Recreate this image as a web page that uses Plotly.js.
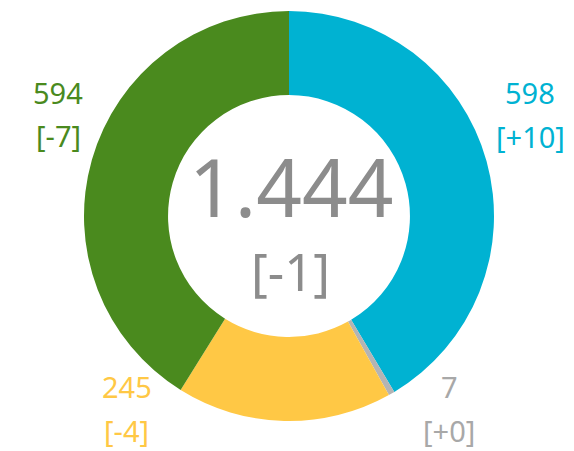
<!DOCTYPE html>
<html>
<head>
<meta charset="utf-8">
<script src="https://cdn.plot.ly/plotly-3.0.1.min.js"></script>
<style>html,body{margin:0;padding:0;background:#fff;}#chart{width:574px;height:451px;}</style>
</head>
<body>
<div id="chart"></div>
<script>
// Data
var categories = ["A", "B", "C", "D"];
var values = [598, 7, 245, 594];
var deltas = [10, 0, -4, -7];
var colors = ["#00B2D2", "#B4B4B4", "#FFC845", "#4A8A1E"];
var labelColors = ["#00B2D2", "#A8A8A8", "#FFC845", "#4A8A1E"];
// label positions (paper px) for each category
var labelPos = [[530, 93], [449, 386], [127, 386], [58, 92]];

var W = 574, H = 451;
function fmtDelta(d) { return "[" + (d >= 0 ? "+" : "") + d + "]"; }
function fmtThousands(n) { return String(n).replace(/\B(?=(\d{3})+(?!\d))/g, "."); }

var total = values.reduce(function (a, b) { return a + b; }, 0);
var totalDelta = deltas.reduce(function (a, b) { return a + b; }, 0);

var cx = 289, cy = 216, R = 205;
var trace = {
  type: "pie",
  labels: categories,
  values: values,
  sort: false,
  direction: "clockwise",
  rotation: 0,
  hole: 0.59,
  textinfo: "none",
  hoverinfo: "none",
  marker: { colors: colors, line: { color: "#ffffff", width: 0 } },
  domain: { x: [(cx - R) / W, (cx + R) / W], y: [1 - (cy + R) / H, 1 - (cy - R) / H] },
  showlegend: false
};

var font = "'Noto Sans', 'Open Sans', sans-serif";
var annotations = [];
for (var i = 0; i < categories.length; i++) {
  var p = labelPos[i];
  annotations.push({
    xref: "paper", yref: "paper", x: p[0] / W, y: 1 - p[1] / H,
    text: String(values[i]), showarrow: false, xanchor: "center", yanchor: "middle", borderpad: 0,
    font: { family: font, size: 29, color: labelColors[i] }
  });
  annotations.push({
    xref: "paper", yref: "paper", x: p[0] / W, y: 1 - (p[1] + 44) / H,
    text: fmtDelta(deltas[i]), showarrow: false, xanchor: "center", yanchor: "middle", borderpad: 0,
    font: { family: font, size: 29, color: labelColors[i] }
  });
}
annotations.push({
  xref: "paper", yref: "paper", x: 291 / W, y: 1 - 186 / H,
  text: fmtThousands(total), showarrow: false, xanchor: "center", yanchor: "middle",
  font: { family: font, size: 80, color: "#8C8C8C" }
});
annotations.push({
  xref: "paper", yref: "paper", x: 290 / W, y: 1 - 271 / H,
  text: fmtDelta(totalDelta), showarrow: false, xanchor: "center", yanchor: "middle",
  font: { family: font, size: 51, color: "#8C8C8C" }
});

var layout = {
  width: W, height: H,
  margin: { l: 0, r: 0, t: 0, b: 0 },
  paper_bgcolor: "#ffffff",
  annotations: annotations
};
Plotly.newPlot("chart", [trace], layout, { displayModeBar: false, staticPlot: true });
</script>
</body>
</html>
